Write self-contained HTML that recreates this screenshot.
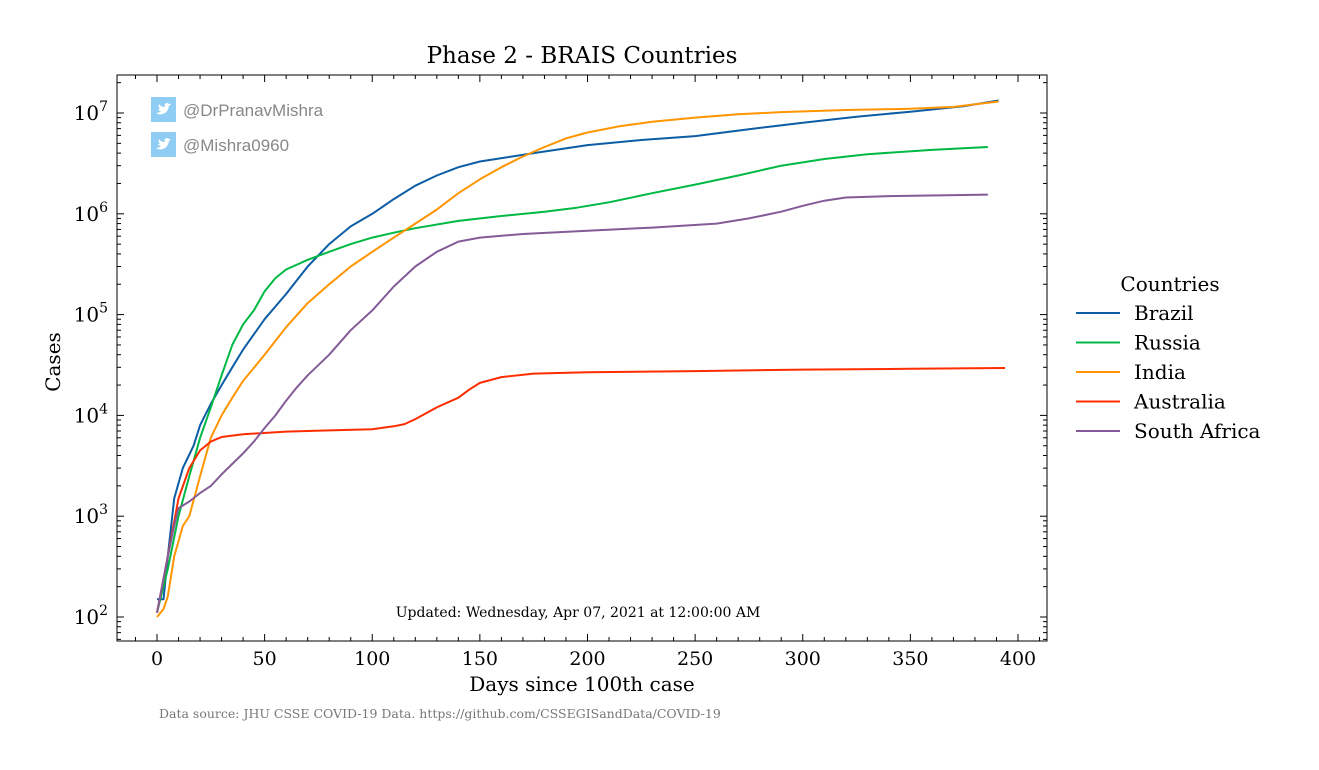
<!DOCTYPE html>
<html><head><meta charset="utf-8"><style>
body{margin:0;background:#fff;}
svg text{font-family:"DejaVu Serif","Liberation Serif",serif;}
</style></head><body>
<svg id="chart" width="1319" height="765" xmlns="http://www.w3.org/2000/svg">
<text x="582" y="63" font-size="23" text-anchor="middle">Phase 2 - BRAIS Countries</text>
<g id="plot"></g>
<rect x="117" y="75" width="930" height="566" fill="none" stroke="#000" stroke-width="1"/>
<g>
<rect x="151" y="97" width="25" height="25" fill="#90cdf4"/><path d="M156 113 q4 3 9 0 q3-2 4-7 l2-2 -2 0 q-2-2-4 0 q-1 1 0 3 q-4 0-6-3 q-1 3 1 5 l-2 0 q1 2 3 2 q-2 2-5 2z" fill="#fff"/>
<text x="183" y="116" font-size="17" fill="#888" style="font-family:'Liberation Sans',sans-serif">@DrPranavMishra</text></g>
<g>
<rect x="151" y="132" width="25" height="25" fill="#90cdf4"/><path d="M156 148 q4 3 9 0 q3-2 4-7 l2-2 -2 0 q-2-2-4 0 q-1 1 0 3 q-4 0-6-3 q-1 3 1 5 l-2 0 q1 2 3 2 q-2 2-5 2z" fill="#fff"/>
<text x="183" y="151" font-size="17" fill="#888" style="font-family:'Liberation Sans',sans-serif">@Mishra0960</text></g>
<text x="578" y="617" font-size="14" text-anchor="middle">Updated: Wednesday, Apr 07, 2021 at 12:00:00 AM</text>
<text x="582" y="691" font-size="20" text-anchor="middle">Days since 100th case</text>
<text x="0" y="0" font-size="20" text-anchor="middle" transform="translate(60,362) rotate(-90)">Cases</text>
<text x="159" y="718" font-size="12.5" fill="#777">Data source: JHU CSSE COVID-19 Data. https://github.com/CSSEGISandData/COVID-19</text>
<g id="legend"><text x="1170" y="291" font-size="20" text-anchor="middle">Countries</text></g>
</svg>
<script>
const countries=["Brazil","Russia","India","Australia","South Africa"];
const colors=["#0c5da5","#00b945","#ff9500","#ff2c00","#845b97"];
const brazilDays=[0,3,5,8,12,17,20,25,30,35,40,50,60,70,80,90,100,110,120,130,140,150,175,200,225,250,275,300,325,350,375,391];
const brazilCases=[150,150,400,1500,3000,5000,8000,13000,20000,30000,45000,90000,160000,300000,500000,750000,1e6,1.4e6,1.9e6,2.4e6,2.9e6,3.3e6,4e6,4.8e6,5.4e6,5.9e6,6.9e6,8e6,9.2e6,1.03e7,1.17e7,1.33e7];
const russiaDays=[0,5,10,15,20,25,30,35,40,45,50,55,60,70,80,90,100,110,120,140,160,180,195,210,230,250,270,290,310,330,360,386];
const russiaCases=[110,300,1000,2500,6000,12000,25000,50000,80000,110000,170000,230000,280000,350000,420000,500000,580000,650000,720000,850000,950000,1.05e6,1.15e6,1.3e6,1.6e6,1.95e6,2.4e6,3e6,3.5e6,3.9e6,4.3e6,4.6e6];
const indiaDays=[0,3,5,8,12,15,20,25,30,35,40,50,60,70,80,90,100,110,120,130,140,150,160,170,180,190,200,215,230,250,270,290,320,350,370,391];
const indiaCases=[100,120,160,400,800,1000,2500,6000,10000,15000,22000,40000,75000,130000,200000,300000,420000,580000,800000,1.1e6,1.6e6,2.2e6,2.9e6,3.7e6,4.6e6,5.6e6,6.4e6,7.4e6,8.2e6,9e6,9.7e6,1.02e7,1.07e7,1.1e7,1.15e7,1.3e7];
const australiaDays=[0,5,10,15,20,25,30,40,60,80,100,110,115,120,125,130,140,145,150,160,175,200,250,300,350,394];
const australiaCases=[110,400,1500,3000,4500,5500,6100,6500,6900,7100,7300,7800,8200,9200,10500,12000,15000,18000,21000,24000,26000,26800,27500,28500,29000,29500];
const safricaDays=[0,5,8,10,15,20,25,30,35,40,45,50,55,60,65,70,80,90,100,110,120,130,140,150,170,200,230,260,275,290,300,310,320,340,386];
const safricaCases=[110,400,800,1200,1400,1700,2000,2600,3300,4200,5500,7500,10000,14000,19000,25000,40000,70000,110000,190000,300000,420000,530000,580000,630000,680000,730000,800000,900000,1.05e6,1.2e6,1.35e6,1.45e6,1.5e6,1.55e6];
const xTicks=[0,50,100,150,200,250,300,350,400];
const yExps=[2,3,4,5,6,7];
const series=[[brazilDays,brazilCases],[russiaDays,russiaCases],[indiaDays,indiaCases],[australiaDays,australiaCases],[safricaDays,safricaCases]];
const X=d=>157+d*(1018-157)/400;
const Y=v=>617-(Math.log10(v)-2)*100.8;
const NS="http://www.w3.org/2000/svg";
const plot=document.getElementById('plot');
function mk(t,a,p){const e=document.createElementNS(NS,t);for(const k in a)e.setAttribute(k,a[k]);(p||plot).appendChild(e);return e;}
const L=117,R=1047,T=75,B=641;
for(let d=-10;d<=420;d+=10){const x=X(d);if(x<L||x>R)continue;const maj=d%50===0;const len=maj?7:4;
 mk('line',{x1:x,x2:x,y1:B,y2:B-len,stroke:'#000'});mk('line',{x1:x,x2:x,y1:T,y2:T+len,stroke:'#000'});}
xTicks.forEach(d=>{const t=mk('text',{x:X(d),y:665,'font-size':19,'text-anchor':'middle'});t.textContent=d;
 
 });
for(let e=1;e<=7;e++)for(let m=1;m<10;m++){const y=Y(m*Math.pow(10,e));if(y<T||y>B)continue;const len=m===1?7:4;
 mk('line',{x1:L,x2:L+len,y1:y,y2:y,stroke:'#000'});mk('line',{x1:R,x2:R-len,y1:y,y2:y,stroke:'#000'});}
yExps.forEach(e=>{const t=mk('text',{x:108,y:Y(Math.pow(10,e))+7,'font-size':20,'text-anchor':'end'});
 t.innerHTML='10<tspan dy="-9" font-size="14">'+e+'</tspan>';
 
 });
series.forEach((s,i)=>{const pts=s[0].map((d,j)=>X(d).toFixed(1)+','+Y(s[1][j]).toFixed(1)).join(' ');
 const p=mk('polyline',{points:pts,fill:'none',stroke:colors[i],'stroke-width':2,'stroke-linejoin':'round'});
 
 });
const lg=document.getElementById('legend');
countries.forEach((c,i)=>{const y=313+i*29.5;const g=mk('g',{},lg);
 
 
 mk('line',{x1:1076,x2:1120,y1:y,y2:y,stroke:colors[i],'stroke-width':2},g);
 const t=mk('text',{x:1134,y:y+7,'font-size':20},g);t.textContent=c;});
</script>
</body></html>
